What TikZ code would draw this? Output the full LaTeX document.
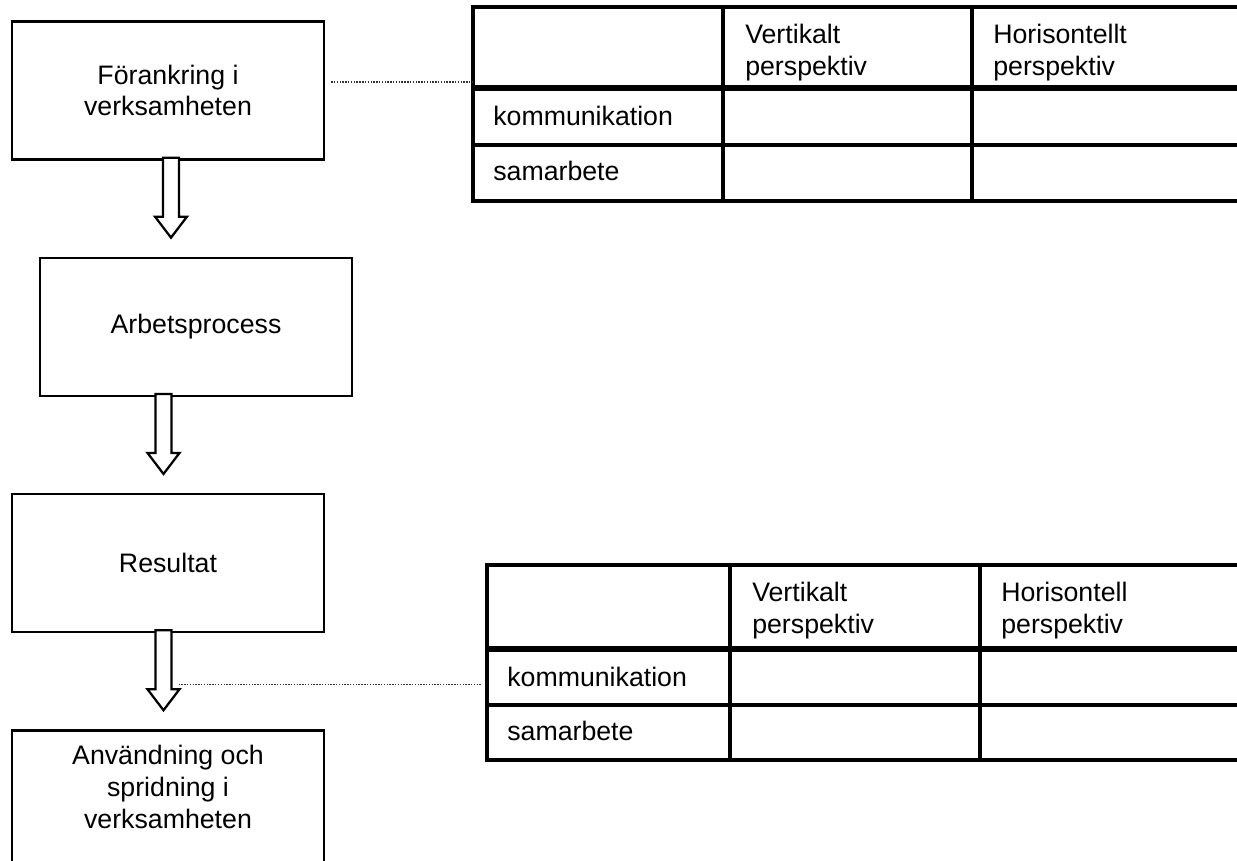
\documentclass[tikz,border=0pt]{standalone}
\usepackage{fontspec}
\setmainfont{Liberation Sans}
\usetikzlibrary{positioning,calc}

\tikzset{
  box/.style={draw,line width=1.6pt,minimum width=7.8cm,minimum height=3.45cm,inner sep=0pt,align=center},
  boxtext/.style={inner sep=0pt,align=center},
  tabline/.style={line width=2.4pt},
  headline/.style={line width=4pt},
  celltext/.style={inner sep=0pt,anchor=base west},
  headtext/.style={inner sep=0pt,anchor=north west,align=left},
  dotline/.style={black!80,line width=1pt,dash pattern=on 1pt off 1pt},
  blockarrow/.pic={\draw[line width=1.6pt,fill=white] (-8,-3) -- (8,-3) -- (8,56) -- (16,56) -- (0,77) -- (-16,56) -- (-8,56) -- cycle;}
}

% #1 corner, #2 #3 columns, #4 head line, #5 row line, #6 bottom, #7 heading
\newcommand{\perspektivtabell}[7]{%
  \begin{scope}[shift={(#1)}]
    \draw[tabline] (800,0) -- (0,0) -- (0,#6) -- (800,#6);
    \draw[tabline] (0,#5) -- (800,#5);
    \draw[tabline] (#2,0) -- (#2,#6) (#3,0) -- (#3,#6);
    \draw[headline] (0,#4) -- (800,#4);
    \node[headtext] (#1-v) at (#2+22,17) {Vertikalt\\perspektiv};
    \node[headtext] (#1-h) at (#3+21,17) {#7\\perspektiv};
    \node[celltext] (#1-k) at (20,#4+37) {kommunikation};
    \node[celltext] (#1-s) at (20,#5+35) {samarbete};
  \end{scope}}

\begin{document}
\begin{tikzpicture}[x=0.025cm,y=-0.025cm,node distance=2.4cm,
    font=\fontsize{19pt}{22.5pt}\selectfont]
  \useasboundingbox (0,0) rectangle (1237,861);
  \clip (0,0) rectangle (1237,861);

  \node[box] (b1) at (168,90.5) {Förankring i\\verksamheten};
  \node[box] (b2) [below=of b1,xshift=0.7cm] {Arbetsprocess};
  \node[box] (b3) [below=of b2,xshift=-0.7cm] {Resultat};
  \node[box,minimum height=4cm] (b4) [below=of b3] {};
  \node[boxtext] (b4t) [below=0.4cm of b4.north] {Användning och\\spridning i\\verksamheten};

  \pic at ($(b1.south)+(3,0)$) {blockarrow};
  \pic at ($(b2.south)+(-32.5,0)$) {blockarrow};
  \pic at ($(b3.south)+(-4.5,0)$) {blockarrow};

  \coordinate (t1) at (473,7);
  \coordinate (t2) at (487,565);
  \perspektivtabell{t1}{250}{499}{81}{138}{194}{Horisontellt}
  \perspektivtabell{t2}{243}{493}{84}{140}{195}{Horisontell}

  \draw[dotline] ($(b1.east)+(6,-8.5)$) -- ($(b1.east -| t1)+(0,-8.5)$);
  \coordinate (a3) at ($(b3.south)+(10.5,51.5)$);
  \draw[dotline] (a3) -- ($(a3 -| t2)+(-5,0)$);
\end{tikzpicture}
\end{document}
